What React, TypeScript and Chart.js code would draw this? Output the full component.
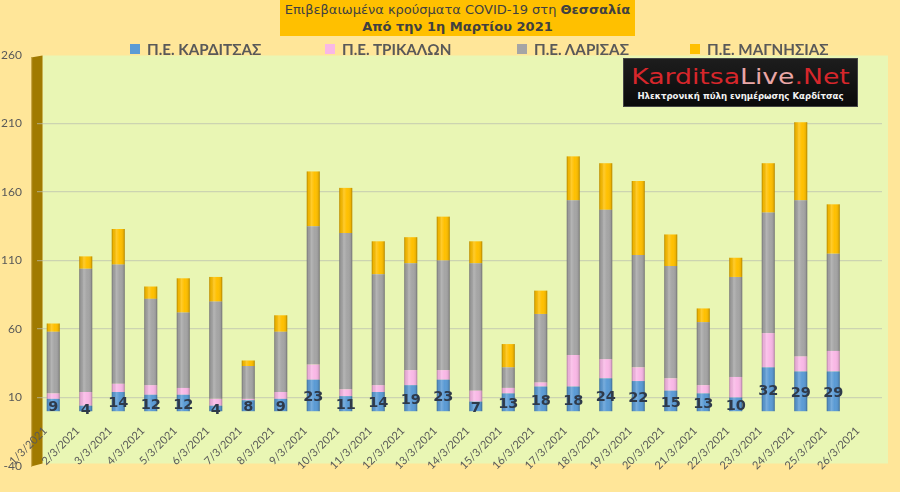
import React, { useEffect, useRef } from 'react';
import { Chart, registerables } from 'chart.js';

Chart.register(...registerables);

const categories = [
  '1/3/2021', '2/3/2021', '3/3/2021', '4/3/2021', '5/3/2021', '6/3/2021', '7/3/2021',
  '8/3/2021', '9/3/2021', '10/3/2021', '11/3/2021', '12/3/2021', '13/3/2021', '14/3/2021',
  '15/3/2021', '16/3/2021', '17/3/2021', '18/3/2021', '19/3/2021', '20/3/2021', '21/3/2021',
  '22/3/2021', '23/3/2021', '24/3/2021', '25/3/2021', '26/3/2021',
];

const seriesNames = ['Π.Ε. ΚΑΡΔΙΤΣΑΣ', 'Π.Ε. ΤΡΙΚΑΛΩΝ', 'Π.Ε. ΛΑΡΙΣΑΣ', 'Π.Ε. ΜΑΓΝΗΣΙΑΣ'];
const seriesColors = ['#5B9BD5', '#F9B8E6', '#A5A5A5', '#FFC000'];

const karditsa = [9, 4, 14, 12, 12, 4, 8, 9, 23, 11, 14, 19, 23, 7, 13, 18, 18, 24, 22, 15, 13, 10, 32, 29, 29, null];
const trikala = [4, 10, 6, 7, 5, 5, 1, 5, 11, 5, 5, 11, 7, 8, 4, 3, 23, 14, 10, 9, 6, 15, 25, 11, 15, null];
const larisa = [45, 90, 87, 63, 55, 71, 24, 44, 101, 114, 81, 78, 80, 93, 15, 50, 113, 109, 82, 82, 46, 73, 88, 114, 71, null];
const magnisia = [6, 9, 26, 9, 25, 18, 4, 12, 40, 33, 24, 19, 32, 16, 17, 17, 32, 34, 54, 23, 10, 14, 36, 57, 36, null];

const yTicks = [-40, 10, 60, 110, 160, 210, 260];

const titleLine1 = 'Επιβεβαιωμένα κρούσματα COVID-19 στη ';
const titleRegion = 'Θεσσαλία';
const titleLine2 = 'Από την 1η Μαρτίου 2021';

const legendLefts = [130, 325, 517, 690];

const backgroundPlugin = {
  id: 'bgWall',
  beforeDraw(chart: any) {
    const { ctx, chartArea } = chart;
    const { left, right, top, bottom } = chartArea;
    ctx.save();
    ctx.fillStyle = '#E9F6B4';
    ctx.fillRect(left + 5.5, top + 0.5, right - left + 0.5, bottom - top - 3);
    ctx.beginPath();
    ctx.moveTo(left - 6, top + 2.5);
    ctx.lineTo(left + 5.5, top + 0.5);
    ctx.lineTo(left + 5.5, bottom - 2.5);
    ctx.lineTo(left - 6, bottom + 0.5);
    ctx.closePath();
    ctx.fillStyle = '#A07A00';
    ctx.fill();
    ctx.fillStyle = '#C9A748';
    ctx.fillRect(left - 6, top + 2.5, 1.2, bottom - top - 2);
    ctx.restore();
  },
};

const cylinderPlugin = {
  id: 'cylinder',
  afterDatasetsDraw(chart: any) {
    const { ctx } = chart;
    ctx.save();
    chart.data.datasets.forEach((_: any, di: number) => {
      const meta = chart.getDatasetMeta(di);
      meta.data.forEach((el: any, i: number) => {
        const v = chart.data.datasets[di].data[i];
        if (v === null || v === undefined) return;
        const { x, y, base, width } = el.getProps(['x', 'y', 'base', 'width'], true);
        const x0 = x - width / 2;
        const g = ctx.createLinearGradient(x0, 0, x0 + width, 0);
        g.addColorStop(0, 'rgba(0,0,0,0.3)');
        g.addColorStop(0.12, 'rgba(0,0,0,0.06)');
        g.addColorStop(0.35, 'rgba(255,255,255,0.18)');
        g.addColorStop(0.6, 'rgba(255,255,255,0.0)');
        g.addColorStop(0.88, 'rgba(0,0,0,0.08)');
        g.addColorStop(1, 'rgba(0,0,0,0.32)');
        ctx.fillStyle = g;
        ctx.fillRect(x0, Math.min(y, base), width, Math.abs(base - y));
      });
    });
    ctx.restore();
  },
};

const valueLabelPlugin = {
  id: 'valueLabels',
  afterDatasetsDraw(chart: any) {
    const { ctx } = chart;
    const meta = chart.getDatasetMeta(0);
    ctx.save();
    ctx.font = 'bold 14.5px "DejaVu Sans"';
    ctx.fillStyle = '#2F3A4A';
    ctx.textAlign = 'center';
    ctx.textBaseline = 'middle';
    meta.data.forEach((el: any, i: number) => {
      const v = karditsa[i];
      if (v === null || v === undefined) return;
      const { x, y, base } = el.getProps(['x', 'y', 'base'], true);
      ctx.fillText(String(v), x, (y + base) / 2 + 2);
    });
    ctx.restore();
  },
};

export default function App() {
  const canvasRef = useRef<HTMLCanvasElement | null>(null);

  useEffect(() => {
    if (!canvasRef.current) return;
    const series = [karditsa, trikala, larisa, magnisia];
    const chart = new Chart(canvasRef.current, {
      type: 'bar',
      data: {
        labels: categories,
        datasets: series.map((d, i) => ({
          label: seriesNames[i],
          data: d,
          backgroundColor: seriesColors[i],
          borderWidth: 0,
          categoryPercentage: 1,
          barPercentage: 0.4,
        })),
      },
      options: {
        animation: false,
        responsive: true,
        maintainAspectRatio: false,
        layout: { padding: { top: 55, bottom: 26, left: 0, right: 18 } },
        plugins: {
          legend: { display: false },
          title: { display: false },
          tooltip: { enabled: false },
        },
        scales: {
          x: {
            type: 'category',
            stacked: true,
            position: { y: 0 } as any,
            grid: { display: false },
            border: { display: false },
            ticks: {
              maxRotation: 45,
              minRotation: 45,
              autoSkip: false,
              padding: 5,
              labelOffset: -8,
              color: '#595959',
              font: { family: 'Lato', size: 11 },
            },
            afterFit: (s: any) => {
              s.height = 0;
              s.paddingLeft = 0;
              s.paddingRight = 0;
            },
          },
          y: {
            type: 'linear',
            stacked: true,
            min: -40,
            max: 260,
            afterBuildTicks: (s: any) => {
              s.ticks = yTicks.map((v) => ({ value: v }));
            },
            afterFit: (s: any) => {
              s.width = 37;
            },
            border: { display: false },
            grid: {
              drawTicks: false,
              color: (c: any) =>
                c.tick && (c.tick.value === -40 || c.tick.value === 260) ? 'rgba(0,0,0,0)' : 'rgba(185,190,175,0.6)',
              lineWidth: 1.2,
            },
            ticks: {
              padding: 15,
              color: '#595959',
              font: { family: 'Lato', size: 12 },
            },
          },
        },
      },
      plugins: [backgroundPlugin, cylinderPlugin, valueLabelPlugin],
    } as any);
    return () => chart.destroy();
  }, []);

  return (
    <div
      style={{
        position: 'absolute',
        left: 0,
        top: 0,
        width: 900,
        height: 492,
        background: '#FFE699',
        overflow: 'hidden',
        fontFamily: '"DejaVu Sans", sans-serif',
      }}
    >
      <canvas ref={canvasRef} style={{ position: 'absolute', left: 0, top: 0, width: 900, height: 492 }} />
      <div
        style={{
          position: 'absolute',
          left: 280,
          top: 0,
          width: 355,
          height: 36,
          background: '#FFC000',
          color: '#404040',
          fontSize: 13,
          lineHeight: '17px',
          textAlign: 'center',
          paddingTop: 1,
          boxSizing: 'border-box',
          fontFamily: '"DejaVu Sans", sans-serif',
          whiteSpace: 'nowrap',
        }}
      >
        <div>
          {titleLine1}
          <b>{titleRegion}</b>
        </div>
        <div>
          <b>{titleLine2}</b>
        </div>
      </div>
      {seriesNames.map((name, i) => (
        <div
          key={name}
          style={{
            position: 'absolute',
            left: legendLefts[i],
            top: 38,
            height: 22,
            display: 'flex',
            alignItems: 'center',
            fontFamily: 'Lato, sans-serif',
            fontWeight: 700,
            fontSize: 15.2,
            color: '#595959',
            whiteSpace: 'nowrap',
          }}
        >
          <span style={{ display: 'inline-block', width: 10, height: 10, background: seriesColors[i], marginRight: 7 }} />
          {name}
        </div>
      ))}
      <div
        style={{
          position: 'absolute',
          left: 623,
          top: 58,
          width: 235,
          height: 49,
          background: 'linear-gradient(#1d1d1d, #0a0a0a)',
          border: '1px solid #444',
          boxSizing: 'border-box',
          textAlign: 'center',
          overflow: 'hidden',
        }}
      >
        <div
          style={{
            marginTop: 6,
            fontFamily: '"DejaVu Sans", sans-serif',
            fontSize: 21,
            lineHeight: '24px',
            transform: 'scaleX(1.27)',
            transformOrigin: 'center',
            whiteSpace: 'nowrap',
          }}
        >
          <span style={{ color: '#D7262B' }}>Karditsa</span>
          <span style={{ color: '#E9A6A6' }}>Live</span>
          <span style={{ color: '#D7262B' }}>.Net</span>
        </div>
        <div
          style={{
            marginTop: 2,
            fontFamily: '"DejaVu Sans", sans-serif',
            fontWeight: 700,
            fontSize: 8.6,
            lineHeight: '11px',
            color: '#F2F2F2',
            whiteSpace: 'nowrap',
          }}
        >
          Ηλεκτρονική πύλη ενημέρωσης Καρδίτσας
        </div>
      </div>
    </div>
  );
}
